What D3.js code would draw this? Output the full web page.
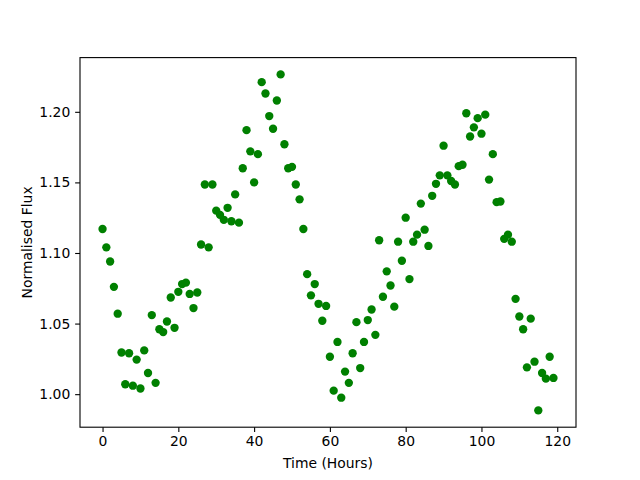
<!DOCTYPE html>
<html>
<head>
<meta charset="utf-8">
<script src="https://cdn.jsdelivr.net/npm/d3@7"></script>
<style>
  body { margin: 0; background: #fff; }
  svg { display: block; }
  text { font-family: 'DejaVu Sans', sans-serif; }
</style>
</head>
<body>
<svg id="chart" width="640" height="480"></svg>
<script>
// hours since start, one reading per hour
const hours = d3.range(0, 120);

// normalised flux, one per hour
const flux = [
  1.117, 1.104, 1.094, 1.076, 1.057, 1.0295, 1.007, 1.029, 1.006, 1.0245,
  1.004, 1.031, 1.015, 1.056, 1.008, 1.046, 1.044, 1.0515, 1.0685, 1.047,
  1.0725, 1.078, 1.079, 1.071, 1.061, 1.072, 1.106, 1.1485, 1.104, 1.1485,
  1.130, 1.127, 1.1235, 1.132, 1.1225, 1.1415, 1.1215, 1.160, 1.187, 1.172,
  1.150, 1.170, 1.221, 1.213, 1.197, 1.188, 1.208, 1.2265, 1.177, 1.160,
  1.161, 1.1485, 1.138, 1.117, 1.085, 1.070, 1.078, 1.064, 1.052, 1.0625,
  1.0265, 1.0025, 1.037, 0.9975, 1.016, 1.008, 1.029, 1.051, 1.0185, 1.037,
  1.0525, 1.060, 1.042, 1.109, 1.069, 1.087, 1.077, 1.062, 1.108, 1.0945,
  1.125, 1.0815, 1.108, 1.113, 1.135, 1.1165, 1.105, 1.1405, 1.149, 1.155,
  1.176, 1.155, 1.151, 1.1485, 1.1615, 1.1625, 1.199, 1.1825, 1.189, 1.1955,
  1.1845, 1.198, 1.152, 1.170, 1.136, 1.1365, 1.110, 1.113, 1.108, 1.0675,
  1.055, 1.046, 1.019, 1.0535, 1.023, 0.9885, 1.015, 1.011, 1.0265, 1.0115
];

const xTicks = [0, 20, 40, 60, 80, 100, 120];
const yTicks = [1.00, 1.05, 1.10, 1.15, 1.20];

const plotLeft = 80, plotRight = 576, plotTop = 57.6, plotBottom = 427.2;

// matplotlib style 5% margins around the data
function padded(ext) {
  const m = (ext[1] - ext[0]) * 0.05;
  return [ext[0] - m, ext[1] + m];
}

const x = d3.scaleLinear().domain(padded(d3.extent(hours))).range([plotLeft, plotRight]);
const y = d3.scaleLinear().domain(padded(d3.extent(flux))).range([plotBottom, plotTop]);

const svg = d3.select('#chart');

const points = hours.map((h, i) => ({h: h, f: flux[i]}));

svg.append('g')
  .selectAll('circle')
  .data(points)
  .enter()
  .append('circle')
  .attr('cx', (d) => x(d.h))
  .attr('cy', (d) => y(d.f))
  .attr('r', 4.17)
  .attr('fill', '#008000');

// axes frame
svg.append('rect')
  .attr('x', plotLeft)
  .attr('y', plotTop)
  .attr('width', plotRight - plotLeft)
  .attr('height', plotBottom - plotTop)
  .attr('fill', 'none')
  .attr('stroke', '#000')
  .attr('stroke-width', 1.1);

const tickLen = 4.86;

const xAxis = d3.axisBottom(x)
  .tickValues(xTicks)
  .tickSize(tickLen)
  .tickPadding(4.4)
  .tickFormat(d3.format('d'));

const gx = svg.append('g')
  .attr('transform', `translate(0,${plotBottom})`)
  .call(xAxis);
gx.select('.domain').remove();
gx.selectAll('.tick line').attr('stroke', '#000').attr('stroke-width', 1.1);
gx.selectAll('.tick text')
  .attr('font-family', "'DejaVu Sans', sans-serif")
  .attr('font-size', 13.9)
  .attr('fill', '#000');

const yAxis = d3.axisLeft(y)
  .tickValues(yTicks)
  .tickSize(tickLen)
  .tickPadding(4.9)
  .tickFormat(d3.format('.2f'));

const gy = svg.append('g')
  .attr('transform', `translate(${plotLeft},0)`)
  .call(yAxis);
gy.select('.domain').remove();
gy.selectAll('.tick line').attr('stroke', '#000').attr('stroke-width', 1.1);
gy.selectAll('.tick text')
  .attr('font-family', "'DejaVu Sans', sans-serif")
  .attr('font-size', 13.9)
  .attr('fill', '#000');

svg.append('text')
  .attr('x', (plotLeft + plotRight) / 2)
  .attr('y', 468)
  .attr('text-anchor', 'middle')
  .attr('font-size', 13.9)
  .text('Time (Hours)');

svg.append('text')
  .attr('transform', `translate(31.5,${(plotTop + plotBottom) / 2}) rotate(-90)`)
  .attr('text-anchor', 'middle')
  .attr('font-size', 13.9)
  .text('Normalised Flux');
</script>
</body>
</html>
